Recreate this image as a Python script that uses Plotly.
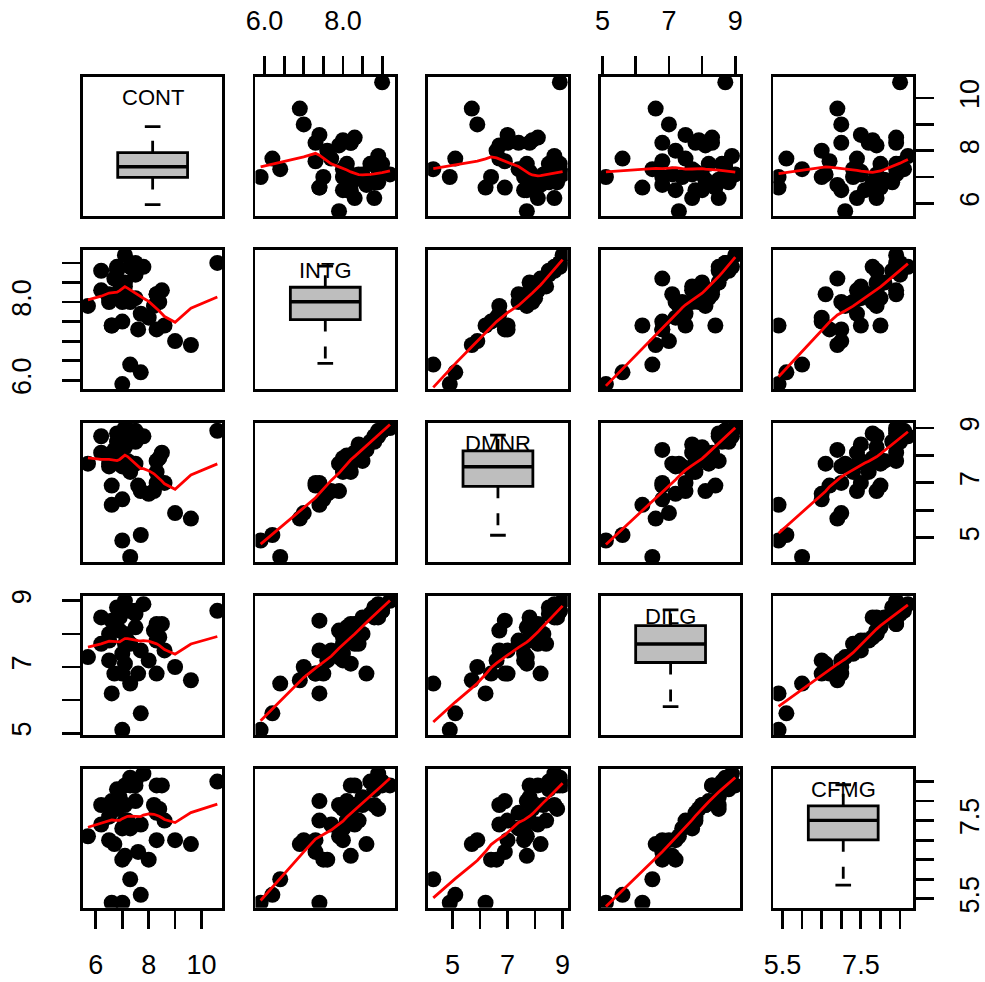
import numpy as np
import plotly.graph_objects as go

# ---------------- data (USJudgeRatings, first five columns) ----------------
names = ["CONT", "INTG", "DMNR", "DILG", "CFMG"]
CONT = [5.7, 6.8, 7.2, 6.8, 7.3, 6.2, 10.6, 7.0, 7.3, 8.2, 7.0, 6.5, 6.7, 7.0, 6.5,
        7.3, 8.0, 7.7, 8.3, 9.6, 7.1, 7.6, 6.6, 6.2, 7.5, 7.8, 7.1, 7.5, 7.5, 7.1,
        6.6, 8.4, 6.9, 7.3, 7.7, 8.5, 6.9, 6.5, 8.3, 8.3, 9.0, 7.1, 8.6]
INTG = [7.9, 8.9, 8.1, 8.8, 6.4, 8.8, 9.0, 5.9, 8.9, 7.9, 8.0, 8.0, 8.6, 7.5, 8.1,
        8.0, 7.6, 7.7, 8.2, 6.9, 8.2, 7.3, 7.4, 8.3, 8.7, 8.9, 8.5, 9.0, 8.1, 9.2,
        7.4, 8.0, 8.5, 8.9, 6.2, 8.3, 8.3, 8.2, 7.3, 8.2, 7.0, 8.4, 7.4]
DMNR = [7.7, 8.8, 7.8, 8.5, 4.3, 8.7, 8.9, 4.9, 8.9, 6.7, 7.6, 7.6, 8.2, 6.4, 8.0,
        7.4, 6.6, 6.7, 7.4, 5.7, 7.7, 6.9, 6.2, 8.1, 8.5, 8.7, 8.3, 8.9, 7.7, 9.0,
        6.9, 7.9, 7.8, 8.8, 5.1, 8.1, 8.0, 7.7, 7.0, 7.8, 5.9, 8.4, 7.0]
DILG = [7.3, 8.5, 7.8, 8.8, 6.5, 8.5, 8.7, 5.1, 8.7, 8.1, 7.4, 7.2, 6.8, 6.8, 8.0,
        7.7, 7.2, 7.5, 7.8, 6.6, 7.1, 6.8, 6.2, 7.7, 8.6, 8.9, 8.0, 8.7, 8.2, 9.0,
        8.4, 7.9, 8.5, 8.7, 5.6, 8.3, 8.1, 7.8, 6.8, 8.3, 7.0, 7.7, 7.5]
CFMG = [7.1, 7.8, 7.5, 8.3, 6.0, 7.9, 8.5, 5.4, 8.6, 7.9, 7.3, 7.0, 6.9, 6.5, 7.9,
        7.3, 6.5, 7.4, 7.7, 6.9, 6.6, 6.7, 5.4, 7.4, 8.5, 8.7, 7.9, 8.4, 8.0, 8.4,
        8.0, 7.8, 8.1, 8.4, 5.6, 8.4, 7.9, 7.6, 7.0, 8.4, 7.0, 7.5, 7.5]
data = {"CONT": CONT, "INTG": INTG, "DMNR": DMNR, "DILG": DILG, "CFMG": CFMG}

tick_vals = {
    "CONT": [6, 7, 8, 9, 10],
    "INTG": [6.0, 6.5, 7.0, 7.5, 8.0, 8.5, 9.0],
    "DMNR": [5, 6, 7, 8, 9],
    "DILG": [5, 6, 7, 8, 9],
    "CFMG": [5.5, 6.0, 6.5, 7.0, 7.5, 8.0, 8.5],
}
tick_text = {
    "CONT": ["6", "", "8", "", "10"],
    "INTG": ["6.0", "", "", "", "8.0", "", ""],
    "DMNR": ["5", "", "7", "", "9"],
    "DILG": ["5", "", "7", "", "9"],
    "CFMG": ["5.5", "", "", "", "7.5", "", ""],
}

# ---------------- helpers ----------------
def lowess_r(xv, yv, f=2/3, nsteps=3):
    """Port of R's clowess (stats::lowess)."""
    xv = np.asarray(xv, float); yv = np.asarray(yv, float)
    o = np.argsort(xv, kind="stable")
    xs_sorted = xv[o]; ys_sorted = yv[o]
    n = len(xs_sorted)
    delta = 0.01 * (xs_sorted[-1] - xs_sorted[0])
    x = np.concatenate([[0.0], xs_sorted]); y = np.concatenate([[0.0], ys_sorted])
    ys = np.zeros(n + 1); rw = np.zeros(n + 1); w = np.zeros(n + 1)
    ns = max(2, min(n, int(f * n + 1e-7)))
    rng = x[n] - x[1]

    def lowest(xs, nleft, nright, userw):
        h = max(xs - x[nleft], x[nright] - xs)
        h9 = 0.999 * h; h1 = 0.001 * h
        a = 0.0
        j = nleft
        while j <= n:
            w[j] = 0.0
            r = abs(x[j] - xs)
            if r <= h9:
                if r <= h1:
                    w[j] = 1.0
                else:
                    w[j] = (1 - (r / h) ** 3) ** 3
                if userw:
                    w[j] *= rw[j]
                a += w[j]
            elif x[j] > xs:
                break
            j += 1
        nrt = j - 1
        if a <= 0:
            return None
        for j in range(nleft, nrt + 1):
            w[j] /= a
        if h > 0:
            a = sum(w[j] * x[j] for j in range(nleft, nrt + 1))
            b = xs - a
            c = sum(w[j] * (x[j] - a) ** 2 for j in range(nleft, nrt + 1))
            if np.sqrt(c) > 0.001 * rng:
                b /= c
                for j in range(nleft, nrt + 1):
                    w[j] *= (b * (x[j] - a) + 1)
        return sum(w[j] * y[j] for j in range(nleft, nrt + 1))

    it = 1
    while it <= nsteps + 1:
        nleft = 1; nright = ns; last = 0; i = 1
        while True:
            if nright < n:
                d1 = x[i] - x[nleft]; d2 = x[nright + 1] - x[i]
                if d1 > d2:
                    nleft += 1; nright += 1
                    continue
            val = lowest(x[i], nleft, nright, it > 1)
            ys[i] = y[i] if val is None else val
            if last < i - 1:
                denom = x[i] - x[last]
                for j in range(last + 1, i):
                    alpha = (x[j] - x[last]) / denom
                    ys[j] = alpha * ys[i] + (1 - alpha) * ys[last]
            last = i
            cut = x[last] + delta
            i = last + 1
            while i <= n:
                if x[i] > cut:
                    break
                if x[i] == x[last]:
                    ys[i] = ys[last]; last = i
                i += 1
            i = max(last + 1, i - 1)
            if last >= n:
                break
        res = y[1:] - ys[1:]
        sc = np.mean(np.abs(res))
        if it > nsteps:
            break
        ar = np.abs(res)
        srt = np.sort(ar)
        m1 = n // 2
        if n % 2 == 0:
            cmad = 3 * (srt[m1] + srt[n - m1 - 1])
        else:
            cmad = 6 * srt[m1]
        if cmad < 1e-7 * sc:
            break
        c9 = 0.999 * cmad; c1 = 0.001 * cmad
        for k in range(n):
            r = ar[k]
            if r <= c1:
                rw[k + 1] = 1.0
            elif r <= c9:
                rw[k + 1] = (1 - (r / cmad) ** 2) ** 2
            else:
                rw[k + 1] = 0.0
        it += 1
    return xs_sorted, ys[1:].copy()


def ext_range(v):
    lo, hi = min(v), max(v)
    d = 0.04 * (hi - lo)
    return [lo - d, hi + d]


def box_stats(v):
    v = np.sort(np.asarray(v, float)); n = len(v)
    n4 = np.floor((n + 3) / 2) / 2
    d = np.array([1, n4, (n + 1) / 2, n + 1 - n4, n]) - 1
    fn = 0.5 * (v[np.floor(d).astype(int)] + v[np.ceil(d).astype(int)])
    iqr = fn[3] - fn[1]
    inside = v[(v >= fn[1] - 1.5 * iqr) & (v <= fn[3] + 1.5 * iqr)]
    return inside.min(), fn[1], fn[2], fn[3], inside.max()


# ---------------- layout geometry (pixels) ----------------
W, H = 985, 982
COL_L0, COL_STEP, PW = 74.0, 175.5, 142.0
ROW_T0, ROW_STEP, PH = 72.0, 175.0, 141.0
LW = 2.8
TICKLEN = 18
FONT = "Liberation Sans, Arial, Helvetica, sans-serif"
tickfont = dict(family=FONT, size=27, color="black")
STANDOFF = {"top": 16, "bottom": 13, "left": 20, "right": 13}

fig = go.Figure()
layout = dict(width=W, height=H, margin=dict(l=0, r=0, t=0, b=0),
              paper_bgcolor="white", plot_bgcolor="white", showlegend=False)
shapes = []
annotations = []


def aid(prefix, p):
    return prefix if p == 1 else f"{prefix}{p}"


for i in range(5):
    for j in range(5):
        p = i * 5 + j + 1
        xid, yid = aid("x", p), aid("y", p)
        xkey, ykey = aid("xaxis", p), aid("yaxis", p)
        xl = COL_L0 + COL_STEP * j
        yt = ROW_T0 + ROW_STEP * i
        xdom = [xl / W, (xl + PW) / W]
        ydom = [1 - (yt + PH) / H, 1 - yt / H]
        vx, vy = names[j], names[i]
        xa = dict(domain=xdom, range=ext_range(data[vx]), anchor=yid,
                  showgrid=False, zeroline=False, showline=True, mirror=True,
                  linecolor="black", linewidth=LW, ticks="", showticklabels=False,
                  fixedrange=True)
        ya = dict(domain=ydom, range=ext_range(data[vy]), anchor=xid,
                  showgrid=False, zeroline=False, showline=True, mirror=True,
                  linecolor="black", linewidth=LW, ticks="", showticklabels=False,
                  fixedrange=True)
        if (i == 4 and j % 2 == 0) or (i == 0 and j % 2 == 1):
            side = "bottom" if i == 4 else "top"
            xa.update(ticks="outside", ticklen=TICKLEN, tickwidth=LW, tickcolor="black",
                      tickmode="array", tickvals=tick_vals[vx], ticktext=tick_text[vx],
                      showticklabels=True, tickfont=tickfont, tickangle=0,
                      side=side, ticklabelstandoff=STANDOFF[side])
        if (j == 4 and i % 2 == 0) or (j == 0 and i % 2 == 1):
            side = "right" if j == 4 else "left"
            ya.update(ticks="outside", ticklen=TICKLEN, tickwidth=LW, tickcolor="black",
                      tickmode="array", tickvals=tick_vals[vy], ticktext=tick_text[vy],
                      showticklabels=True, tickfont=tickfont, tickangle=-90,
                      side=side, ticklabelstandoff=STANDOFF[side])
        layout[xkey] = xa
        layout[ykey] = ya

        if i != j:
            fig.add_trace(go.Scatter(x=data[vx], y=data[vy], mode="markers",
                                     marker=dict(size=16, color="black", line=dict(width=0)),
                                     xaxis=xid, yaxis=yid, hoverinfo="skip"))
            lx, ly = lowess_r(data[vx], data[vy])
            fig.add_trace(go.Scatter(x=lx, y=ly, mode="lines",
                                     line=dict(color="red", width=2.8),
                                     xaxis=xid, yaxis=yid, hoverinfo="skip"))
        else:
            v = data[vx]
            # invisible trace so that the panel frame (and its axes) exist
            fig.add_trace(go.Scatter(x=[np.median(v)], y=[np.median(v)], mode="markers",
                                     marker=dict(opacity=0), xaxis=xid, yaxis=yid,
                                     hoverinfo="skip"))
            q = 26 + i
            bx, by = f"x{q}", f"y{q}"
            layout[f"xaxis{q}"] = dict(domain=xdom, overlaying=xid, anchor=by, range=[0, 1],
                                      visible=False, fixedrange=True)
            layout[f"yaxis{q}"] = dict(domain=ydom, overlaying=yid, anchor=bx,
                                      range=[min(v) - 0.5, max(v) + 0.5],
                                      visible=False, fixedrange=True)
            lo, q1, med, q3, hi = box_stats(v)
            fig.add_trace(go.Scatter(x=[0.5], y=[med], mode="markers",
                                     marker=dict(opacity=0), xaxis=bx, yaxis=by,
                                     hoverinfo="skip"))
            # whiskers (dashed, from hinge outward), staples, box, median
            for a, b in ((q3, hi), (q1, lo)):
                shapes.append(dict(type="line", xref=bx, yref=by, x0=0.5, x1=0.5, y0=a, y1=b,
                                   line=dict(color="black", width=LW, dash="12px,15px")))
                shapes.append(dict(type="line", xref=bx, yref=by, x0=0.444, x1=0.556, y0=b, y1=b,
                                   line=dict(color="black", width=LW)))
            shapes.append(dict(type="rect", xref=bx, yref=by, x0=0.25, x1=0.75, y0=q1, y1=q3,
                               fillcolor="#BEBEBE", line=dict(color="black", width=LW)))
            shapes.append(dict(type="line", xref=bx, yref=by, x0=0.25, x1=0.75, y0=med, y1=med,
                               line=dict(color="black", width=3.4)))
            annotations.append(dict(text=vx, xref=f"{xid} domain", yref=f"{yid} domain",
                                    x=0.5, y=1 - 21 / PH, xanchor="center", yanchor="middle",
                                    showarrow=False,
                                    font=dict(family=FONT, size=22, color="black")))

layout["shapes"] = shapes
layout["annotations"] = annotations
fig.update_layout(**layout)
fig.write_html("out.html", config={"displayModeBar": False, "staticPlot": True},
               post_script="document.body.style.margin='0';")
